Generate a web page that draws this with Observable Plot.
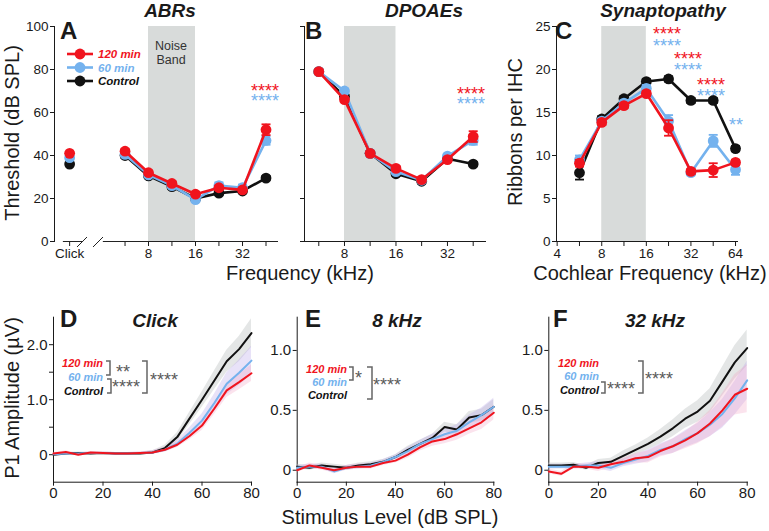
<!DOCTYPE html>
<html><head><meta charset="utf-8">
<script src="https://cdn.jsdelivr.net/npm/d3@7"></script>
<script src="https://cdn.jsdelivr.net/npm/@observablehq/plot@0.6"></script>
<style>
html,body{margin:0;padding:0;background:#fff;}
#root{position:relative;width:769px;height:531px;overflow:hidden;font-family:"Liberation Sans",Arial,Helvetica,sans-serif;}
.panel{position:absolute;}
.panel svg{overflow:visible;}
#overlay{position:absolute;left:0;top:0;pointer-events:none;}
</style></head><body><div id="root"></div>
<script>
// ---------- data ----------
const groups = ["Control", "60 min", "120 min"];
const groupColors = ["#111111", "#74b2ee", "#f0141e"];

// Panel A: ABR thresholds (dB SPL)
const abrClickThreshold = [36, 39, 41];           // Control, 60 min, 120 min
const abrFreqs = [5.66, 8, 11.3, 16, 22.6, 32, 45.25];
const abrControl = [40, 30.5, 25.5, 20, 22.5, 23.5, 29.5];
const abr60 = [40.5, 31, 26, 19.5, 26, 25, 47];
const abr120 = [42, 32, 27, 22, 25, 24, 52];
const abrErrControl = [1, 1, 1, 1, 1, 1, 1];
const abrErr60 = [1, 1, 1, 1, 1.5, 1.5, 2];
const abrErr120 = [1, 1, 1, 1, 1, 1, 2.5];
const freqTickLabels = [8, 16, 32];
const clickLabel = "Click";

// Panel B: DPOAE thresholds (dB SPL)
const dpFreqs = [5.66, 8, 11.3, 16, 22.6, 32, 45.25];
const dpControl = [79, 67.5, 41, 31.5, 28, 38.5, 36];
const dp60 = [79, 70, 41, 32.5, 28.5, 39.7, 47];
const dp120 = [79, 66, 41, 34, 28.8, 38.1, 48.8];
const dpErrControl = [1, 1, 1, 1, 1, 1, 1];
const dpErr60 = [1, 1, 1, 1, 1, 1, 2];
const dpErr120 = [1, 1, 1, 1, 1, 1, 2.5];

// Panel C: ribbons per IHC
const ribFreqs = [5.66, 8, 11.3, 16, 22.6, 32, 45.25, 64];
const ribControl = [8.0, 14.25, 16.6, 18.6, 18.9, 16.4, 16.4, 10.8];
const rib60 = [9.5, 14.0, 16.1, 17.8, 14.0, 8.0, 11.7, 8.35];
const rib120 = [9.1, 13.85, 15.8, 17.2, 13.2, 8.15, 8.3, 9.2];
const ribErrControl = [0.8, 0.3, 0.3, 0.3, 0.3, 0.3, 0.3, 0.3];
const ribErr60 = [0.5, 0.3, 0.3, 0.4, 0.7, 0.3, 0.7, 0.6];
const ribErr120 = [0.4, 0.3, 0.3, 0.3, 0.9, 0.3, 0.8, 0.3];
const ribTickLabels = [4, 8, 16, 32, 64];

const noiseBand = [{lo: 8, hi: 16}];

// Panels D-F: P1 amplitude (µV) vs stimulus level
const levels = [0, 5, 10, 15, 20, 25, 30, 35, 40, 45, 50, 55, 60, 65, 70, 75, 80];
const clickControl = [0.00, 0.02, 0.03, 0.02, 0.03, 0.02, 0.02, 0.02, 0.04, 0.12, 0.32, 0.66, 1.00, 1.35, 1.70, 1.92, 2.21];
const click60 = [0.01, 0.02, 0.02, 0.03, 0.03, 0.02, 0.02, 0.03, 0.04, 0.09, 0.20, 0.40, 0.62, 0.94, 1.29, 1.49, 1.71];
const click120 = [0.02, 0.05, 0.00, 0.04, 0.03, 0.02, 0.02, 0.03, 0.04, 0.09, 0.18, 0.34, 0.53, 0.84, 1.17, 1.32, 1.48];
const clickSemControl = [0.02, 0.02, 0.02, 0.02, 0.02, 0.02, 0.02, 0.02, 0.03, 0.05, 0.08, 0.11, 0.14, 0.17, 0.20, 0.23, 0.26];
const clickSem60 = [0.02, 0.02, 0.02, 0.02, 0.02, 0.02, 0.02, 0.02, 0.03, 0.04, 0.06, 0.09, 0.12, 0.16, 0.20, 0.23, 0.26];
const clickSem120 = [0.02, 0.02, 0.02, 0.02, 0.02, 0.02, 0.02, 0.02, 0.03, 0.04, 0.05, 0.07, 0.09, 0.11, 0.13, 0.14, 0.15];

const k8Control = [0.03, 0.02, 0.04, 0.03, 0.02, 0.04, 0.05, 0.07, 0.11, 0.17, 0.22, 0.27, 0.36, 0.34, 0.44, 0.46, 0.53];
const k860 = [0.02, 0.03, 0.03, -0.01, 0.02, 0.03, 0.04, 0.07, 0.11, 0.16, 0.22, 0.26, 0.30, 0.33, 0.40, 0.46, 0.53];
const k8120 = [0.00, 0.04, 0.02, 0.00, 0.02, 0.03, 0.03, 0.06, 0.08, 0.13, 0.19, 0.24, 0.26, 0.30, 0.35, 0.40, 0.48];
const k8SemControl = [0.02, 0.02, 0.02, 0.02, 0.02, 0.02, 0.02, 0.02, 0.02, 0.03, 0.03, 0.03, 0.04, 0.04, 0.05, 0.05, 0.06];
const k8Sem60 = [0.02, 0.02, 0.02, 0.02, 0.02, 0.02, 0.02, 0.02, 0.02, 0.03, 0.03, 0.04, 0.04, 0.05, 0.06, 0.06, 0.07];
const k8Sem120 = [0.02, 0.02, 0.02, 0.02, 0.02, 0.02, 0.02, 0.02, 0.02, 0.03, 0.03, 0.04, 0.04, 0.05, 0.05, 0.06, 0.06];

const k32Control = [0.04, 0.04, 0.045, 0.02, 0.06, 0.07, 0.12, 0.17, 0.22, 0.28, 0.35, 0.43, 0.49, 0.58, 0.74, 0.90, 1.02];
const k3260 = [0.03, 0.03, 0.03, 0.04, 0.04, 0.02, 0.06, 0.09, 0.12, 0.17, 0.20, 0.26, 0.31, 0.38, 0.47, 0.60, 0.75];
const k32120 = [-0.01, -0.03, 0.03, 0.03, 0.02, 0.05, 0.07, 0.10, 0.11, 0.16, 0.20, 0.25, 0.31, 0.39, 0.50, 0.63, 0.68];
const k32SemControl = [0.02, 0.02, 0.02, 0.02, 0.03, 0.03, 0.04, 0.04, 0.05, 0.06, 0.07, 0.08, 0.09, 0.10, 0.12, 0.14, 0.15];
const k32Sem60 = [0.02, 0.02, 0.02, 0.02, 0.03, 0.03, 0.03, 0.04, 0.05, 0.05, 0.06, 0.07, 0.08, 0.10, 0.12, 0.14, 0.16];
const k32Sem120 = [0.02, 0.02, 0.02, 0.02, 0.03, 0.03, 0.03, 0.04, 0.05, 0.05, 0.06, 0.07, 0.09, 0.11, 0.14, 0.17, 0.20];

// ---------- helpers ----------
const FONT = '"Liberation Sans", Arial, Helvetica, sans-serif';
const baseStyle = {fontFamily: FONT, fontSize: "13.5px", color: "#1a1a1a", background: "none", overflow: "visible"};
const root = document.getElementById("root");
function place(svg, left, top) {
  const d = document.createElement("div");
  d.className = "panel"; d.style.left = left + "px"; d.style.top = top + "px";
  d.appendChild(svg); root.appendChild(d);
}
const capSymbol = {draw(ctx, size) { const r = Math.sqrt(size / Math.PI); ctx.moveTo(-r, 0); ctx.lineTo(r, 0); }};
function rows(xs, vs, es) { return xs.map((x, i) => ({x, v: vs[i], e: es ? es[i] : 0})); }
function pointSeries(data, color) {
  return [
    Plot.ruleX(data, {x: "x", y1: d => d.v - d.e, y2: d => d.v + d.e, stroke: color, strokeWidth: 1.8}),
    Plot.dot(data, {x: "x", y: d => d.v + d.e, symbol: capSymbol, r: 4.5, stroke: color, strokeWidth: 1.8, fill: "none"}),
    Plot.dot(data, {x: "x", y: d => d.v - d.e, symbol: capSymbol, r: 4.5, stroke: color, strokeWidth: 1.8, fill: "none"}),
    Plot.line(data, {x: "x", y: "v", stroke: color, strokeWidth: 2.6}),
    Plot.dot(data, {x: "x", y: "v", fill: color, r: 5.4})
  ];
}
const freqFmt = d => freqTickLabels.includes(d) ? String(d) : "";

// ---------- Panel A ----------
const clickPos = 2.5;
const abrSeries = [[abrControl, abrErrControl], [abr60, abrErr60], [abr120, abrErr120]];
const panelA = Plot.plot({
  width: 290, height: 270, marginLeft: 54, marginRight: 12, marginTop: 26, marginBottom: 29,
  style: baseStyle,
  x: {type: "log", base: 2, domain: [2, 54.4], ticks: [clickPos, ...abrFreqs],
      tickFormat: d => d === clickPos ? clickLabel : freqFmt(d), tickSize: 5, tickPadding: 2, label: null},
  y: {domain: [0, 100], ticks: [0, 20, 40, 60, 80, 100], tickSize: 4, tickPadding: 2, line: true, label: null},
  marks: [
    Plot.rect(noiseBand, {x1: "lo", x2: "hi", fill: "#d8dbda"}),
    Plot.ruleY([0], {x1: 2.28, x2: 3.07, stroke: "#222", strokeWidth: 1}),
    Plot.ruleY([0], {x1: 4.11, x2: 54.4, stroke: "#222", strokeWidth: 1}),
    ...abrSeries.flatMap(([v, e], i) => pointSeries(rows(abrFreqs, v, e), groupColors[i])),
    ...groups.map((g, i) => Plot.dot([abrClickThreshold[i]], {x: clickPos, y: d => d, fill: groupColors[i], r: 5.4}))
  ]
});
place(panelA, 0, 0);

// ---------- Panel B ----------
const dpSeries = [[dpControl, dpErrControl], [dp60, dpErr60], [dp120, dpErr120]];
const panelB = Plot.plot({
  width: 210, height: 270, marginLeft: 14, marginRight: 15, marginTop: 26, marginBottom: 29,
  style: baseStyle,
  x: {type: "log", base: 2, domain: [4.67, 53.4], ticks: dpFreqs, tickFormat: freqFmt, tickSize: 5, tickPadding: 2, line: true, label: null},
  y: {domain: [0, 100], ticks: [0, 20, 40, 60, 80, 100], tickFormat: () => "", tickSize: 4, line: true, label: null},
  marks: [
    Plot.rect(noiseBand, {x1: "lo", x2: "hi", fill: "#d8dbda"}),
    ...dpSeries.flatMap(([v, e], i) => pointSeries(rows(dpFreqs, v, e), groupColors[i]))
  ]
});
place(panelB, 290, 0);

// ---------- Panel C ----------
const ribSeries = [[ribControl, ribErrControl], [rib60, ribErr60], [rib120, ribErr120]];
const panelC = Plot.plot({
  width: 269, height: 270, marginLeft: 56, marginRight: 32, marginTop: 26, marginBottom: 29,
  style: baseStyle,
  x: {type: "log", base: 2, domain: [3.96, 66], ticks: [ribTickLabels[0], ...ribFreqs],
      tickFormat: d => ribTickLabels.includes(d) ? String(d) : "", tickSize: 5, tickPadding: 2, line: true, label: null},
  y: {domain: [0, 25], ticks: [0, 5, 10, 15, 20, 25], tickSize: 4, tickPadding: 2, line: true, label: null},
  marks: [
    Plot.rect(noiseBand, {x1: "lo", x2: "hi", fill: "#d8dbda"}),
    ...ribSeries.flatMap(([v, e], i) => pointSeries(rows(ribFreqs, v, e), groupColors[i]))
  ]
});
place(panelC, 500, 0);

// ---------- Panels D-F ----------
const bandFills = ["#c4c8c7", "#b6a6ea", "#f2a3c4"];
const bandOpac = [0.45, 0.32, 0.3];
function ampPanel({width, ml, mr, yDomain, yTicks, yFmt, series}) {
  const data = series.map(([v, s]) => rows(levels, v, s));
  return Plot.plot({
    width, height: 220, marginLeft: ml, marginRight: mr, marginTop: 26.7, marginBottom: 28.3,
    style: {...baseStyle, fontSize: "15px"},
    x: {domain: [0, 80], ticks: [0, 20, 40, 60, 80], tickSize: 4, tickPadding: 1, line: true, label: null},
    y: {domain: yDomain, ticks: yTicks, tickFormat: yFmt, tickSize: 4, tickPadding: 2, line: true, label: null},
    marks: [
      ...data.map((d, i) => Plot.areaY(d, {x: "x", y1: r => r.v - r.e, y2: r => r.v + r.e, fill: bandFills[i], fillOpacity: bandOpac[i]})),
      ...data.map((d, i) => Plot.line(d, {x: "x", y: "v", stroke: groupColors[i], strokeWidth: 2}))
    ]
  });
}
const fmtAmp = d => d === 0 ? "0" : (Number.isInteger(d) ? d.toFixed(1) : (d === 0.5 ? "0.5" : ""));
place(ampPanel({width: 270, ml: 53, mr: 19, yDomain: [-0.5, 2.5], yTicks: [0, 0.5, 1, 1.5, 2],
  yFmt: d => d === 0 ? "0" : (Number.isInteger(d) ? d.toFixed(1) : ""),
  series: [[clickControl, clickSemControl], [click60, clickSem60], [click120, clickSem120]]}), 0, 290);
place(ampPanel({width: 240, ml: 26.7, mr: 16.7, yDomain: [-0.1, 1.2775], yTicks: [0, 0.5, 1], yFmt: fmtAmp,
  series: [[k8Control, k8SemControl], [k860, k8Sem60], [k8120, k8Sem120]]}), 270, 290);
place(ampPanel({width: 259, ml: 38.3, mr: 22.3, yDomain: [-0.1, 1.2775], yTicks: [0, 0.5, 1], yFmt: fmtAmp,
  series: [[k32Control, k32SemControl], [k3260, k32Sem60], [k32120, k32Sem120]]}), 510, 290);

// ---------- annotation overlay ----------
const RED = groupColors[2], BLUE = groupColors[1], BLK = groupColors[0], GRAY = "#5a5a5a";
function T(t, x, y, o = {}) {
  const s = o.s || 14, w = o.w || "normal", st = o.st || "normal", a = o.a || "start", c = o.c || "#1a1a1a";
  const rot = o.rot ? ` transform="rotate(-90 ${x} ${y})" dominant-baseline="central"` : "";
  return `<text x="${x}" y="${y}" font-size="${s}" font-weight="${w}" font-style="${st}" text-anchor="${a}" fill="${c}"${rot}>${t}</text>`;
}
// a stack of closely set star strings drawn as one text element
function S(lines, s = 18) {
  return `<text font-size="${s}">` + lines.map(([t, x, y, c]) => `<tspan x="${x}" y="${y}" fill="${c}">${t}</tspan>`).join("") + `</text>`;
}
const BI = {w: "bold", st: "italic"};
const parts = [];
// titles & letters
parts.push(T("ABRs", 170, 17, {...BI, s: 19, a: "middle"}));
parts.push(T("DPOAEs", 424, 17, {...BI, s: 19, a: "middle"}));
parts.push(T("Synaptopathy", 663, 17, {...BI, s: 19, a: "middle"}));
parts.push(T("A", 60, 39, {w: "bold", s: 24}), T("B", 305, 39, {w: "bold", s: 24}), T("C", 555, 39, {w: "bold", s: 24}));
parts.push(T("D", 60, 327, {w: "bold", s: 24}), T("E", 305, 327, {w: "bold", s: 24}), T("F", 553, 327, {w: "bold", s: 24}));
parts.push(T("Click", 155, 327, {...BI, s: 19, a: "middle"}));
parts.push(T("8 kHz", 397, 327, {...BI, s: 19, a: "middle"}));
parts.push(T("32 kHz", 655, 327, {...BI, s: 19, a: "middle"}));
parts.push(T("Noise", 171, 49.5, {s: 12.5, a: "middle", c: "#333"}), T("Band", 171, 63.6, {s: 12.5, a: "middle", c: "#333"}));
// axis labels
parts.push(T("Threshold (dB SPL)", 12, 133, {s: 20, a: "middle", rot: true}));
parts.push(T("Frequency (kHz)", 300, 279.5, {s: 20, a: "middle"}));
parts.push(T("Ribbons per IHC", 515, 132, {s: 20, a: "middle", rot: true}));
parts.push(T("Cochlear Frequency (kHz)", 650, 279.5, {s: 20, a: "middle"}));
parts.push(T("P1 Amplitude (µV)", 12, 398, {s: 20, a: "middle", rot: true}));
parts.push(T("Stimulus Level (dB SPL)", 390, 524, {s: 20, a: "middle"}));
// break marks on A
parts.push(`<path d="M77 247 L87 237 M93 247 L103 237" stroke="#222" stroke-width="1" fill="none"/>`);
// legend A
[[2, 54], [1, 67.5], [0, 81]].forEach(([i, y]) => {
  parts.push(`<line x1="67" y1="${y}" x2="93" y2="${y}" stroke="${groupColors[i]}" stroke-width="2.6"/>`);
  parts.push(`<circle cx="80" cy="${y}" r="5.4" fill="${groupColors[i]}"/>`);
  parts.push(T(groups[i], 98, y + 4, {...BI, s: 11.5, c: groupColors[i]}));
});
// significance stars, top row
parts.push(S([["****", 251, 97, RED], ["****", 251, 106.5, BLUE]]));
parts.push(S([["****", 457, 100, RED], ["****", 457, 110, BLUE]]));
parts.push(S([["****", 653, 40, RED], ["****", 653, 52, BLUE], ["****", 674, 65, RED], ["****", 674, 76, BLUE],
              ["****", 697, 91, RED], ["****", 697, 102, BLUE], ["**", 729, 131, BLUE]]));
// bottom row labels & brackets
function br(x1, x2, y1, y2) { return `<path d="M${x1} ${y1} H${x2} V${y2} H${x1}" stroke="#666" stroke-width="1.5" fill="none"/>`; }
function grpLabels(xr, ys) {
  return [2, 1, 0].map((i, k) => T(groups[i], xr, ys[k], {...BI, s: 11, a: "end", c: groupColors[i]})).join("");
}
parts.push(grpLabels(103, [366.5, 381, 395]));
parts.push(br(106, 110, 361, 375), br(107, 111, 379, 393), br(142, 147, 361, 393));
parts.push(S([["**", 116, 378, GRAY], ["****", 112, 393, GRAY], ["****", 150, 386, GRAY]]));
parts.push(grpLabels(347, [373, 386, 399]));
parts.push(br(349, 353, 367, 380), br(367, 372, 367, 399));
parts.push(S([["*", 355, 384, GRAY], ["****", 373, 391, GRAY]]));
parts.push(grpLabels(599, [367, 380, 394]));
parts.push(br(601, 605, 382, 393), br(638, 643, 361, 393));
parts.push(S([["****", 607, 395, GRAY], ["****", 645, 385, GRAY]]));

const ov = document.createElementNS("http://www.w3.org/2000/svg", "svg");
ov.setAttribute("id", "overlay"); ov.setAttribute("width", 769); ov.setAttribute("height", 531);
ov.setAttribute("font-family", FONT);
ov.innerHTML = parts.join("");
root.appendChild(ov);
</script></body></html>
